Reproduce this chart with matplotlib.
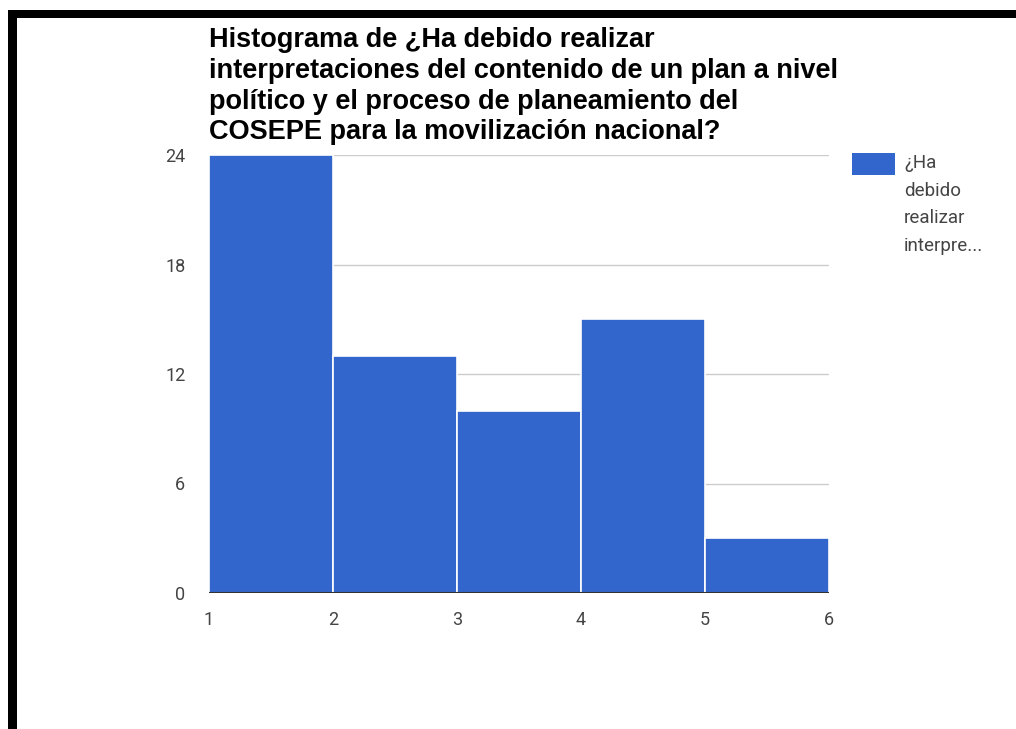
import numpy as np
import matplotlib

matplotlib.use("Agg")

import matplotlib.pyplot as plt
from matplotlib.patches import Rectangle

# histogram bins and counts
bin_edges = [1, 2, 3, 4, 5, 6]
counts = [24, 13, 10, 15, 3]
y_ticks = [0, 6, 12, 18, 24]

title = ("Histograma de ¿Ha debido realizar\n"
         "interpretaciones del contenido de un plan a nivel\n"
         "político y el proceso de planeamiento del\n"
         "COSEPE para la movilización nacional?")
legend_label = "¿Ha\ndebido\nrealizar\ninterpre..."

BAR = "#3366CC"
W, H = 1016, 729

fig = plt.figure(figsize=(W / 100, H / 100), dpi=100)
fig.patch.set_facecolor("white")

# black frame strips (top and left)
fig.add_artist(Rectangle((8 / W, 1 - 18 / H), 1, 8 / H, transform=fig.transFigure,
                         facecolor="black", edgecolor="none"))
fig.add_artist(Rectangle((8 / W, 0), 9 / W, 1 - 10 / H, transform=fig.transFigure,
                         facecolor="black", edgecolor="none"))

ax = fig.add_axes([209 / W, 1 - 593 / H, 620 / W, 438 / H])

edges = np.array(bin_edges)
ax.bar(edges[:-1], counts, width=np.diff(edges), align="edge",
       color=BAR, edgecolor="white", linewidth=1.2, zorder=3)

ax.set_xlim(1, 6)
ax.set_ylim(0, 24)
ax.set_yticks(y_ticks)
ax.set_xticks(bin_edges)
ax.grid(axis="y", color="#cccccc", linewidth=1.0, zorder=0)
ax.axhline(0, color="#333333", linewidth=1.5, zorder=4)

for s in ax.spines.values():
    s.set_visible(False)
ax.tick_params(length=0, labelsize=13, labelcolor="#444444")
ax.tick_params(axis="y", pad=17)
ax.tick_params(axis="x", pad=13)
for lab in ax.get_xticklabels() + ax.get_yticklabels():
    lab.set_family(["Roboto", "DejaVu Sans"])

fig.text(209 / W, 1 - 27 / H, title, ha="left", va="top",
         fontsize=19.5, fontweight="bold", family=["Liberation Sans", "DejaVu Sans"],
         linespacing=1.24, color="black")

# legend swatch and label
fig.add_artist(Rectangle((852 / W, 1 - 175 / H), 43 / W, 22 / H, transform=fig.transFigure,
                         facecolor=BAR, edgecolor="none"))
fig.text(904 / W, 1 - 154 / H, legend_label, ha="left", va="top",
         fontsize=13.5, color="#444444", family=["Roboto", "DejaVu Sans"],
         linespacing=1.68)

fig.savefig("out.png", dpi=100, facecolor="white")
